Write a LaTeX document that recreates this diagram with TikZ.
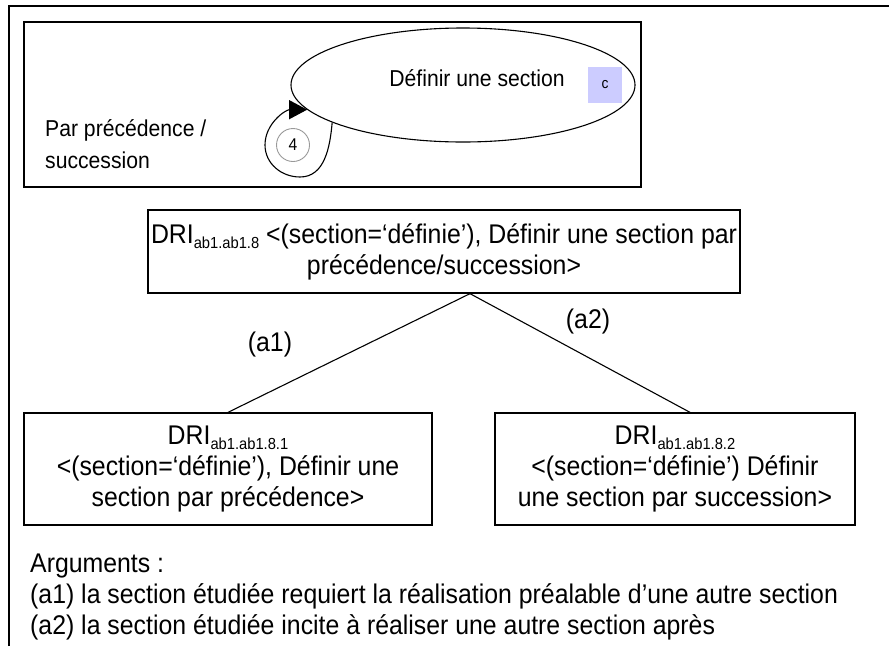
\documentclass[tikz,border=0pt]{standalone}
\usepackage{fontspec}
\setmainfont{Liberation Sans}
\newfontfamily\condfont[FakeStretch=0.92]{Liberation Sans}
\usetikzlibrary{shapes.geometric,arrows.meta,calc}
\definecolor{lav}{HTML}{CCCCFF}
\newcommand{\mainfs}{\condfont\fontsize{27}{31}\selectfont}
\newcommand{\topfs}{\condfont\fontsize{23}{32}\selectfont}
\newcommand{\subtxt}[1]{\raisebox{-5pt}{\fontsize{16}{16}\selectfont #1}}
\begin{document}
\begin{tikzpicture}[x=1pt,y=-1pt,
  box/.style={draw,line width=1.3pt,inner sep=0pt,align=center,font=\mainfs},
  lbl/.style={inner sep=0pt,font=\mainfs},
  conn/.style={line width=1.1pt}]
\useasboundingbox (0,0) rectangle (889,646);
% outer frame (only top and left visible)
\draw[line width=1.3pt] (9,646) -- (9,6) -- (889,6);
% top box
\node[box,minimum width=617pt,minimum height=165pt] (topbox) at (332.5,104.5) {};
\node[draw,ellipse,line width=1.1pt,minimum width=344pt,minimum height=114pt,inner sep=0pt] (ell) at (463,85) {};
\node[inner sep=0pt,font=\topfs] (deftxt) at (477,78) {Définir une section};
\node[fill=lav,minimum width=34pt,minimum height=36pt,inner sep=0pt,font=\condfont\fontsize{15}{16}\selectfont] (cbox) at (605,85) {c};
\node[anchor=west,align=left,inner sep=0pt,font=\topfs] (par) at (45,144) {Par précédence /\\succession};
\node[circle,draw=gray!80,line width=0.9pt,minimum size=33pt,inner sep=0pt,font=\condfont\fontsize{17}{18}\selectfont] (four) at (293,145) {4};
\draw[conn,-{Triangle[length=18pt,width=19pt]}] (ell.196) to[out=-95,in=0] (300,177) to[out=180,in=-90] (265,145) to[out=90,in=180] (ell.189);
% middle box
\node[box,minimum width=592pt,minimum height=83pt] (mid) at (444,251.5)
  {DRI\subtxt{ab1.ab1.8} <(section=‘définie’), Définir une section par\\précédence/succession>};
% bottom boxes
\node[box,minimum width=408pt,minimum height=112pt] (left) at (228,469)
  {DRI\subtxt{ab1.ab1.8.1}\\<(section=‘définie’), Définir une\\section par précédence>};
\node[box,minimum width=360pt,minimum height=112pt] (right) at (675,469)
  {DRI\subtxt{ab1.ab1.8.2}\\<(section=‘définie’) Définir\\une section par succession>};
% connectors
\coordinate (apex) at ($(mid.south)+(26,0)$);
\coordinate (rtop) at ($(right.north)+(15,0)$);
\draw[conn] (apex) -- (left.north);
\draw[conn] (apex) -- (rtop);
\node[lbl] (a1) at (270,345) {(a1)};
\node[lbl] (a2) at (588,322) {(a2)};
% arguments
\node[anchor=west,align=left,inner sep=0pt,font=\mainfs] (args) at (30,597)
  {Arguments :\\(a1) la section étudiée requiert la réalisation préalable d’une autre section\\(a2) la section étudiée incite à réaliser une autre section après};
\end{tikzpicture}
\end{document}
